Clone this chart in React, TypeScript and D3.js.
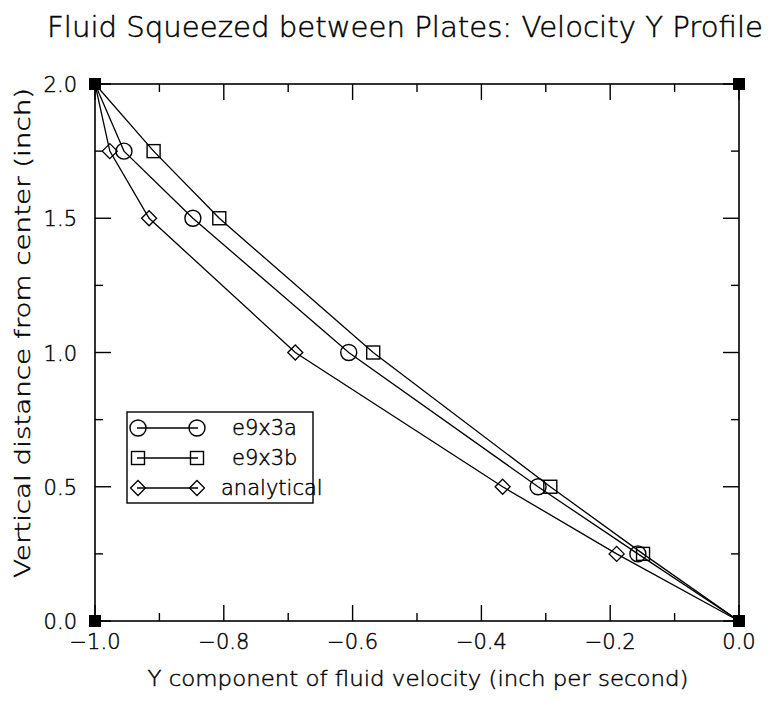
import React from "react";
import * as d3 from "d3";

const yLevels = [2.0, 1.75, 1.5, 1.0, 0.5, 0.25, 0.0];
const e9x3a = [-1.0, -0.955, -0.848, -0.606, -0.312, -0.157, 0.0];
const e9x3b = [-1.0, -0.909, -0.807, -0.568, -0.293, -0.149, 0.0];
const analytical = [-1.0, -0.977, -0.916, -0.689, -0.367, -0.19, 0.0];
const seriesNames = ["e9x3a", "e9x3b", "analytical"];
const cornerX = [-1.0, 0.0, -1.0, 0.0];
const cornerY = [0.0, 2.0, 2.0, 0.0];
const xMajor = [-1.0, -0.8, -0.6, -0.4, -0.2, 0.0];
const xMinor = [-0.9, -0.7, -0.5, -0.3, -0.1];
const yMajor = [0.0, 0.5, 1.0, 1.5, 2.0];
const yMinor = [0.25, 0.75, 1.25, 1.75];

const W = 774, H = 703;
const L = 95, R = 739, T = 84, B = 621;
const FONT = "'DejaVu Sans', sans-serif";
const TXT = { fontFamily: FONT, fontWeight: 200, fill: "#000", stroke: "#000", strokeWidth: 0.45 } as const;

function Marker({ kind, x, y }: { kind: string; x: number; y: number }) {
  if (kind === "circle") return <circle cx={x} cy={y} r={8} fill="none" stroke="#000" strokeWidth={1.4} />;
  if (kind === "square") return <rect x={x - 6.5} y={y - 6.5} width={13} height={13} fill="none" stroke="#000" strokeWidth={1.4} />;
  return <path d={`M${x - 7.5},${y}L${x},${y - 7.5}L${x + 7.5},${y}L${x},${y + 7.5}Z`} fill="none" stroke="#000" strokeWidth={1.3} />;
}

export default function App() {
  const x = d3.scaleLinear().domain([-1, 0]).range([L, R]);
  const y = d3.scaleLinear().domain([0, 2]).range([B, T]);
  const series = [
    { name: seriesNames[0], vals: e9x3a, kind: "circle" },
    { name: seriesNames[1], vals: e9x3b, kind: "square" },
    { name: seriesNames[2], vals: analytical, kind: "diamond" },
  ];
  const line = d3.line<[number, number]>().x((d) => x(d[0])).y((d) => y(d[1]));
  const legX = 127, legY = 412, legW = 186, legH = 91;
  return (
    <svg width={W} height={H} style={{ position: "absolute", left: 0, top: 0, background: "#fff" }}>
      <rect width={W} height={H} fill="#fff" />
      <text x={405} y={37} textAnchor="middle" {...TXT} fontSize={28} textLength={716} lengthAdjust="spacingAndGlyphs">
        Fluid Squeezed between Plates: Velocity Y Profile
      </text>
      <rect x={L} y={T} width={R - L} height={B - T} fill="none" stroke="#000" strokeWidth={1.6} />
      {xMajor.map((v) => (
        <g key={"xm" + v}>
          <line x1={x(v)} x2={x(v)} y1={B} y2={B - 16} stroke="#000" strokeWidth={1.4} />
          <line x1={x(v)} x2={x(v)} y1={T} y2={T + 16} stroke="#000" strokeWidth={1.4} />
          <text x={x(v)} y={649} textAnchor="middle" {...TXT} fontSize={21}>
            {v === 0 ? "0.0" : "\u2212" + Math.abs(v).toFixed(1)}
          </text>
        </g>
      ))}
      {xMinor.map((v) => (
        <g key={"xn" + v}>
          <line x1={x(v)} x2={x(v)} y1={B} y2={B - 8} stroke="#000" strokeWidth={1.4} />
          <line x1={x(v)} x2={x(v)} y1={T} y2={T + 8} stroke="#000" strokeWidth={1.4} />
        </g>
      ))}
      {yMajor.map((v) => (
        <g key={"ym" + v}>
          <line x1={L} x2={L + 16} y1={y(v)} y2={y(v)} stroke="#000" strokeWidth={1.4} />
          <line x1={R} x2={R - 16} y1={y(v)} y2={y(v)} stroke="#000" strokeWidth={1.4} />
          <text x={77} y={y(v) + 8} textAnchor="end" {...TXT} fontSize={21}>
            {v.toFixed(1)}
          </text>
        </g>
      ))}
      {yMinor.map((v) => (
        <g key={"yn" + v}>
          <line x1={L} x2={L + 8} y1={y(v)} y2={y(v)} stroke="#000" strokeWidth={1.4} />
          <line x1={R} x2={R - 8} y1={y(v)} y2={y(v)} stroke="#000" strokeWidth={1.4} />
        </g>
      ))}
      <text x={418} y={686} textAnchor="middle" {...TXT} fontSize={22} textLength={541} lengthAdjust="spacingAndGlyphs">
        Y component of fluid velocity (inch per second)
      </text>
      <text transform={`translate(30,333) rotate(-90)`} textAnchor="middle" {...TXT} fontSize={22} textLength={490} lengthAdjust="spacingAndGlyphs">
        Vertical distance from center (inch)
      </text>
      {series.map((s) => {
        const pts: [number, number][] = s.vals.map((v, i) => [v, yLevels[i]]);
        return (
          <g key={s.name}>
            <path d={line(pts) || ""} fill="none" stroke="#000" strokeWidth={1.3} />
            {pts.slice(1, -1).map((p, i) => (
              <Marker key={i} kind={s.kind} x={x(p[0])} y={y(p[1])} />
            ))}
          </g>
        );
      })}
      {cornerX.map((cx, i) => (
        <rect key={"c" + i} x={x(cx) - 6} y={y(cornerY[i]) - 6} width={12} height={12} fill="#000" />
      ))}
      <rect x={legX} y={legY} width={legW} height={legH} fill="#fff" stroke="#000" strokeWidth={1.4} />
      {series.map((s, i) => {
        const ry = 428 + i * 30;
        return (
          <g key={"lg" + s.name}>
            <line x1={137} x2={198} y1={ry} y2={ry} stroke="#000" strokeWidth={1.3} />
            <Marker kind={s.kind} x={138} y={ry} />
            <Marker kind={s.kind} x={197} y={ry} />
            <text x={i === 2 ? 221 : 232} y={ry + 7} {...TXT} fontSize={21}>
              {s.name}
            </text>
          </g>
        );
      })}
    </svg>
  );
}
